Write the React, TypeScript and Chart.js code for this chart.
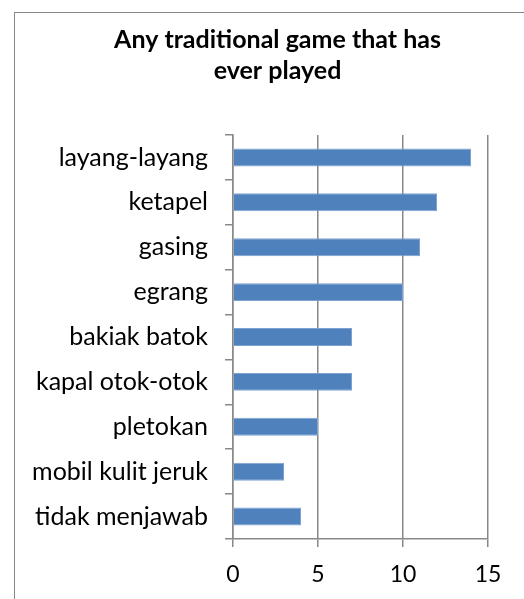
import React, { useEffect, useRef } from "react";
import { Chart, registerables } from "chart.js";

Chart.register(...registerables);

const categories = [
  "layang-layang",
  "ketapel",
  "gasing",
  "egrang",
  "bakiak batok",
  "kapal otok-otok",
  "pletokan",
  "mobil kulit jeruk",
  "tidak menjawab",
];
const values = [14, 12, 11, 10, 7, 7, 5, 3, 4];
const xTicks = [0, 5, 10, 15];
const titleLines = ["Any traditional game that has", "ever played"];

const FONT = "Lato, 'Open Sans', sans-serif";

const titlePlugin = {
  id: "boxTitle",
  afterDraw(chart: any) {
    const ctx = chart.ctx;
    ctx.save();
    ctx.fillStyle = "#000";
    ctx.font = `bold 25px ${FONT}`;
    ctx.textAlign = "center";
    ctx.textBaseline = "alphabetic";
    titleLines.forEach((line, i) => {
      ctx.fillText(line, 277.5, 48 + i * 31);
    });
    ctx.restore();
  },
};

export default function App() {
  const ref = useRef<HTMLCanvasElement | null>(null);

  useEffect(() => {
    if (!ref.current) return;
    const chart = new Chart(ref.current, {
      type: "bar",
      data: {
        labels: categories,
        datasets: [
          {
            data: values,
            backgroundColor: "#4F81BD",
            borderColor: "#7DA2D2",
            borderWidth: 1,
            barPercentage: 0.4,
            categoryPercentage: 1,
          },
        ],
      },
      plugins: [titlePlugin],
      options: {
        indexAxis: "y",
        responsive: false,
        animation: false,
        devicePixelRatio: 1,
        layout: { padding: { left: 20, right: 36, top: 135, bottom: 0 } },
        plugins: {
          legend: { display: false },
          tooltip: { enabled: false },
          title: { display: false },
        },
        scales: {
          x: {
            min: 0,
            max: 15,
            afterBuildTicks: (s: any) => {
              s.ticks = xTicks.map((v) => ({ value: v }));
            },
            afterFit: (s: any) => {
              s.height = 60;
            },
            grid: {
              color: "#888888",
              lineWidth: 1.5,
              drawTicks: true,
              tickLength: 8,
              tickColor: "#888888",
            },
            border: { display: true, color: "#888888", width: 1.5 },
            ticks: {
              color: "#000",
              padding: 14,
              font: { family: FONT, size: 23 },
            },
          },
          y: {
            afterFit: (s: any) => {
              s.width = 213;
            },
            grid: {
              drawOnChartArea: false,
              drawTicks: true,
              tickLength: 8,
              color: "#888888",
              lineWidth: 1.5,
              offset: true,
            },
            border: { display: true, color: "#888888", width: 1.5 },
            ticks: {
              color: "#000",
              padding: 17,
              font: { family: FONT, size: 25 },
            },
          },
        },
      },
    });
    return () => chart.destroy();
  }, []);

  return (
    <div
      style={{
        position: "fixed",
        left: 0,
        top: 0,
        width: 524,
        height: 599,
        overflow: "hidden",
        background: "#fff",
      }}
    >
      <div
        style={{
          position: "absolute",
          left: 14,
          top: 12,
          width: 600,
          height: 700,
          border: "1.5px solid #878787",
        }}
      />
      <canvas
        ref={ref}
        width={524}
        height={599}
        style={{ position: "absolute", left: 0, top: 0 }}
      />
    </div>
  );
}
